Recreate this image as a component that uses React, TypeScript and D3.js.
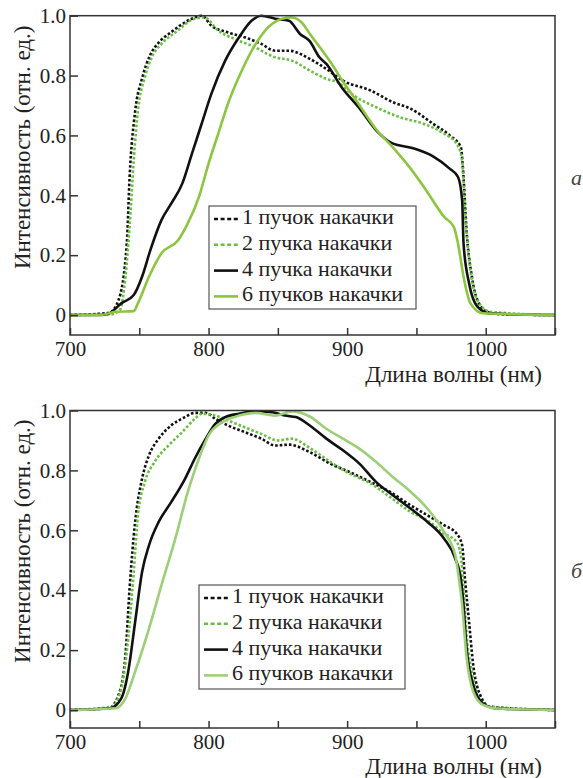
import React, { useEffect, useRef } from 'react';
import * as d3 from 'd3';

// spectra, panel a (top)
const wlA1 = [700, 728, 735, 741, 743, 747, 752, 758, 764, 773, 788, 795, 802, 814, 826, 838, 848, 858, 873, 885, 897, 917, 933, 946, 962, 974, 982, 984, 986, 990, 994, 1001, 1010, 1050];
const valA1 = [0, 0.007, 0.05, 0.24, 0.46, 0.68, 0.79, 0.87, 0.91, 0.945, 0.99, 1.0, 0.967, 0.944, 0.928, 0.906, 0.883, 0.883, 0.856, 0.822, 0.783, 0.75, 0.711, 0.689, 0.639, 0.6, 0.561, 0.46, 0.294, 0.128, 0.05, 0.011, 0.003, 0];

const wlA2 = [700, 729, 736, 740, 743, 746, 749, 754, 759, 766, 776, 790, 797, 807, 819, 831, 848, 860, 873, 885, 893, 905, 921, 938, 955, 970, 979, 983, 985, 989, 994, 1003, 1050];
const valA2 = [0, 0.002, 0.017, 0.128, 0.294, 0.517, 0.683, 0.794, 0.861, 0.906, 0.944, 0.99, 0.994, 0.95, 0.922, 0.9, 0.861, 0.85, 0.817, 0.789, 0.778, 0.733, 0.694, 0.661, 0.639, 0.606, 0.572, 0.517, 0.35, 0.15, 0.05, 0.011, 0];

const wlA4 = [700, 722, 728, 737, 746, 752, 758, 766, 773, 781, 788, 795, 802, 812, 822, 831, 838, 848, 858, 866, 873, 880, 885, 896, 909, 922, 932, 947, 962, 974, 980, 983, 984, 988, 994, 1003, 1050];
const valA4 = [0, 0, 0.005, 0.039, 0.067, 0.128, 0.217, 0.317, 0.372, 0.439, 0.539, 0.639, 0.739, 0.85, 0.928, 0.983, 1.0, 0.99, 0.983, 0.939, 0.915, 0.861, 0.839, 0.761, 0.69, 0.612, 0.575, 0.558, 0.53, 0.489, 0.461, 0.383, 0.239, 0.106, 0.028, 0.005, 0];

const wlA6 = [700, 722, 733, 746, 749, 757, 766, 778, 785, 793, 800, 807, 814, 824, 834, 843, 853, 860, 867, 873, 888, 897, 909, 921, 933, 945, 957, 970, 977, 980, 984, 989, 998, 1050];
const valA6 = [0, 0, 0.011, 0.013, 0.039, 0.128, 0.206, 0.25, 0.306, 0.394, 0.506, 0.606, 0.706, 0.817, 0.906, 0.961, 0.99, 0.994, 0.978, 0.94, 0.845, 0.78, 0.7, 0.62, 0.56, 0.494, 0.417, 0.328, 0.294, 0.239, 0.128, 0.039, 0.006, 0];

// spectra, panel b (bottom)
const wlB1 = [700, 728, 735, 740, 743, 747, 752, 757, 764, 773, 783, 790, 798, 805, 814, 826, 838, 848, 858, 873, 888, 902, 917, 931, 946, 958, 970, 979, 983, 985, 988, 991, 996, 1003, 1050];
const valB1 = [0, 0.006, 0.05, 0.183, 0.406, 0.628, 0.772, 0.85, 0.906, 0.95, 0.978, 0.992, 0.992, 0.972, 0.95, 0.928, 0.906, 0.883, 0.886, 0.861, 0.822, 0.794, 0.761, 0.728, 0.683, 0.65, 0.617, 0.589, 0.55, 0.439, 0.294, 0.15, 0.05, 0.011, 0];

const wlB2 = [700, 730, 737, 742, 746, 749, 754, 761, 771, 781, 790, 795, 805, 814, 826, 838, 850, 860, 873, 888, 902, 917, 931, 946, 958, 970, 979, 982, 984, 986, 990, 995, 1003, 1050];
const valB2 = [0, 0.011, 0.072, 0.239, 0.461, 0.65, 0.761, 0.828, 0.883, 0.928, 0.972, 0.989, 0.983, 0.967, 0.944, 0.922, 0.9, 0.906, 0.875, 0.828, 0.789, 0.756, 0.711, 0.661, 0.633, 0.589, 0.561, 0.517, 0.406, 0.261, 0.128, 0.039, 0.011, 0];

const wlB4 = [700, 729, 737, 742, 747, 752, 757, 764, 773, 783, 790, 798, 805, 812, 822, 834, 846, 855, 863, 873, 885, 897, 909, 921, 933, 946, 958, 970, 978, 982, 984, 986, 991, 998, 1008, 1050];
const valB4 = [0, 0.006, 0.039, 0.128, 0.294, 0.461, 0.55, 0.628, 0.694, 0.772, 0.839, 0.906, 0.956, 0.978, 0.989, 0.997, 0.994, 0.983, 0.978, 0.95, 0.906, 0.867, 0.822, 0.761, 0.717, 0.672, 0.628, 0.572, 0.506, 0.439, 0.35, 0.217, 0.083, 0.022, 0.005, 0];

const wlB6 = [700, 733, 740, 747, 757, 766, 776, 785, 793, 800, 810, 822, 834, 848, 860, 873, 885, 897, 909, 921, 933, 946, 958, 970, 978, 980, 983, 986, 991, 998, 1008, 1050];
const valB6 = [0, 0.006, 0.039, 0.128, 0.272, 0.417, 0.572, 0.728, 0.839, 0.917, 0.961, 0.983, 0.992, 0.983, 0.997, 0.98, 0.939, 0.906, 0.872, 0.828, 0.778, 0.728, 0.672, 0.594, 0.517, 0.461, 0.35, 0.183, 0.061, 0.017, 0.005, 0];

const seriesNames = ['1 пучок накачки', '2 пучка накачки', '4 пучка накачки', '6 пучков накачки'];
const yTickValues = [0, 0.2, 0.4, 0.6, 0.8, 1.0];
const xTickValues = [700, 750, 800, 850, 900, 950, 1000, 1050];
const xTitle = 'Длина волны (нм)';
const yTitle = 'Интенсивность (отн. ед.)';

const W = 583;
const H = 778;

export default function App() {
  const ref = useRef<SVGSVGElement>(null);

  useEffect(() => {
    const svg = d3.select(ref.current);
    svg.selectAll('*').remove();

    const font = "'Liberation Serif', serif";
    const x = d3.scaleLinear().domain([700, 1050]).range([70, 555]);

    const panels = [
      {
        top: 15.7, bottom: 335, yMin: -0.0667, tag: 'а', tagY: 180,
        lines: [[wlA1, valA1], [wlA2, valA2], [wlA4, valA4], [wlA6, valA6]],
        green6: '#8cc63f', legend: { x: 209, y: 206, w: 207, h: 103 }, titleY: 377,
      },
      {
        top: 410.5, bottom: 728, yMin: -0.06, tag: 'б', tagY: 573,
        lines: [[wlB1, valB1], [wlB2, valB2], [wlB4, valB4], [wlB6, valB6]],
        green6: '#9dcf78', legend: { x: 199, y: 585, w: 206, h: 104 }, titleY: 769,
      },
    ];

    panels.forEach(p => {
      const y = d3.scaleLinear().domain([p.yMin, 1]).range([p.bottom, p.top]);
      const g = svg.append('g');

      const styles = [
        { color: '#111', dash: '2.6,2' },
        { color: '#6abd45', dash: '2.6,2' },
        { color: '#111', dash: null },
        { color: p.green6, dash: null },
      ];

      const line = d3.line<[number, number]>()
        .x(d => x(d[0]))
        .y(d => y(d[1]))
        .curve(d3.curveMonotoneX);

      p.lines.forEach((pair, i) => {
        const pts = (pair[0] as number[]).map((w, k) => [w, (pair[1] as number[])[k]] as [number, number]);
        g.append('path')
          .attr('d', line(pts))
          .attr('fill', 'none')
          .attr('stroke', styles[i].color)
          .attr('stroke-width', 2.6)
          .attr('stroke-dasharray', styles[i].dash);
      });

      // axes, ticks pointing inward
      const yAxis = g.append('g')
        .attr('transform', 'translate(70,0)')
        .call(d3.axisLeft(y).tickValues(yTickValues).tickSizeInner(-8).tickSizeOuter(0).tickPadding(4)
          .tickFormat(d => (+d === 0 ? '0' : d3.format('.1f')(+d))));
      yAxis.select('.domain').remove();
      yAxis.selectAll('line').attr('stroke', '#333').attr('stroke-width', 1.5);
      yAxis.selectAll('text').style('font-family', font).style('font-size', '21px').attr('fill', '#222');

      const xAxis = g.append('g')
        .attr('transform', `translate(0,${p.bottom})`)
        .call(d3.axisBottom(x).tickValues(xTickValues).tickSizeInner(-7).tickSizeOuter(0).tickPadding(6)
          .tickFormat(d => (+d % 100 === 0 && +d < 1050 ? String(d) : '')));
      xAxis.select('.domain').remove();
      xAxis.selectAll('line').attr('stroke', '#333').attr('stroke-width', 1.5);
      xAxis.selectAll('text').style('font-family', font).style('font-size', '21px').attr('fill', '#222');

      g.append('rect')
        .attr('x', 70).attr('y', p.top)
        .attr('width', 485).attr('height', p.bottom - p.top)
        .attr('fill', 'none').attr('stroke', '#333').attr('stroke-width', 1.5);

      g.append('text')
        .attr('x', 542).attr('y', p.titleY)
        .attr('text-anchor', 'end').attr('dominant-baseline', 'middle')
        .style('font-family', font).style('font-size', '23px').attr('fill', '#222')
        .text(xTitle);

      const cy = (p.top + p.bottom) / 2 - 28;
      g.append('text')
        .attr('transform', `translate(30,${cy}) rotate(-90)`)
        .attr('text-anchor', 'middle')
        .style('font-family', font).style('font-size', '23px').attr('fill', '#222')
        .text(yTitle);

      g.append('text')
        .attr('x', 571).attr('y', p.tagY)
        .attr('dominant-baseline', 'middle')
        .style('font-family', font).style('font-style', 'italic').style('font-size', '22px').attr('fill', '#444')
        .text(p.tag);

      // legend
      const L = p.legend;
      g.append('rect')
        .attr('x', L.x).attr('y', L.y).attr('width', L.w).attr('height', L.h)
        .attr('fill', '#fff').attr('stroke', '#555').attr('stroke-width', 1.2);
      seriesNames.forEach((name, i) => {
        const ry = L.y + 13 + i * 25.8;
        g.append('line')
          .attr('x1', L.x + 5).attr('x2', L.x + 29).attr('y1', ry).attr('y2', ry)
          .attr('stroke', styles[i].color).attr('stroke-width', 2.6)
          .attr('stroke-dasharray', styles[i].dash ? '4,2.6' : null);
        g.append('text')
          .attr('x', L.x + 33).attr('y', ry)
          .attr('dominant-baseline', 'middle')
          .style('font-family', font).style('font-size', '22px').attr('fill', '#222')
          .text(name);
      });
    });
  }, []);

  return (
    <svg ref={ref} width={W} height={H}
      style={{ position: 'absolute', left: 0, top: 0, background: '#fff' }} />
  );
}
